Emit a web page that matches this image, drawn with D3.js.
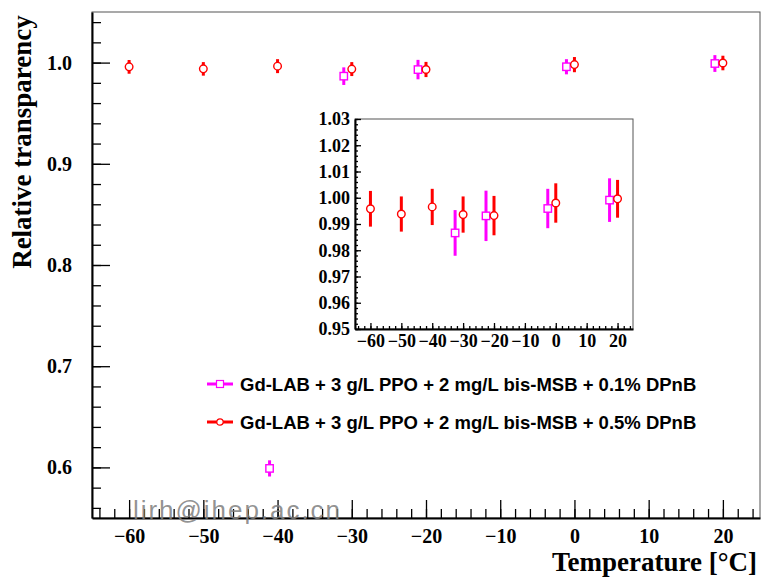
<!DOCTYPE html>
<html>
<head>
<meta charset="utf-8">
<script src="https://cdn.jsdelivr.net/npm/d3@7"></script>
<style>
	body { margin: 0; background: #fff; }
	svg text { font-family: "Liberation Serif", "Times New Roman", serif; font-weight: bold; }
</style>
</head>
<body>
<div id="viz"></div>
<script>
// 0.1% DPnB (magenta squares)
const tempsA = [-40, -30, -20, 0, 20];
const valuesA = [0.599, 0.9866, 0.9931, 0.9959, 0.9991];
const errorsA = [0.008, 0.0087, 0.0096, 0.0075, 0.0083];

// 0.5% DPnB (red circles)
const tempsB = [-60, -50, -40, -30, -20, 0, 20];
const valuesB = [0.9958, 0.9938, 0.9965, 0.9936, 0.9932, 0.9980, 0.9996];
const errorsB = [0.0068, 0.0067, 0.0069, 0.0069, 0.0075, 0.0075, 0.0072];

const legendLabels = [
	'Gd-LAB + 3 g/L PPO + 2 mg/L bis-MSB + 0.1% DPnB',
	'Gd-LAB + 3 g/L PPO + 2 mg/L bis-MSB + 0.5% DPnB'
];

const xTicks = [-60, -50, -40, -30, -20, -10, 0, 10, 20];
const mainYTicks = [0.6, 0.7, 0.8, 0.9, 1.0];
const insetYTicks = [0.95, 0.96, 0.97, 0.98, 0.99, 1.00, 1.01, 1.02, 1.03];

const seriesA = tempsA.map((t, i) => ({ t, v: valuesA[i], e: errorsA[i] }));
const seriesB = tempsB.map((t, i) => ({ t, v: valuesB[i], e: errorsB[i] }));

const width = 761, height = 580;
const svg = d3.select('#viz').append('svg')
	.attr('width', width)
	.attr('height', height);

const dodge = -8; // magenta points drawn a bit left of red ones

function minorRange(a, b, step) {
	let out = [];
	let n = Math.round((b - a) / step);
	for (let i = 0; i <= n; i++) out.push(+(a + i * step).toFixed(4));
	return out;
}

function drawPanel(g, x, y, opt) {
	let [x0, x1] = x.range();
	let [y0, y1] = y.range();

	// frame
	g.append('rect')
		.attr('x', x0).attr('y', y1)
		.attr('width', x1 - x0).attr('height', y0 - y1)
		.attr('fill', 'none')
		.attr('stroke', '#555')
		.attr('stroke-width', 1);

	// minor ticks
	g.append('g')
		.attr('transform', `translate(0,${y0})`)
		.call(d3.axisBottom(x).tickValues(minorRange(-64, 24, 2)).tickSize(-opt.minor).tickFormat(''))
		.call(s => s.select('.domain').remove());
	g.append('g')
		.attr('transform', `translate(${x0},0)`)
		.call(d3.axisLeft(y).tickValues(opt.yMinor).tickSize(-opt.minor).tickFormat(''))
		.call(s => s.select('.domain').remove());

	// major ticks + labels
	let xa = g.append('g')
		.attr('transform', `translate(0,${y0})`)
		.call(d3.axisBottom(x).tickValues(xTicks).tickSizeInner(-opt.major).tickSizeOuter(0)
			.tickFormat(d3.format('d')));
	xa.selectAll('text')
		.attr('dy', null)
		.attr('y', opt.xLabelY)
		.style('font-size', opt.font + 'px')
		.attr('fill', '#000');

	let ya = g.append('g')
		.attr('transform', `translate(${x0},0)`)
		.call(d3.axisLeft(y).tickValues(opt.yTicks).tickSizeInner(-opt.major).tickSizeOuter(0)
			.tickPadding(opt.yPad).tickFormat(d3.format(opt.yFmt)));
	ya.selectAll('text')
		.style('font-size', opt.font + 'px')
		.attr('fill', '#000');

	g.selectAll('.tick line').attr('stroke', '#000').attr('stroke-width', 1.3);
	g.selectAll('.domain').attr('stroke', '#000').attr('stroke-width', 2);

	let [lo, hi] = y.domain();

	function drawSeries(data, color, shape, off) {
		let pts = data.filter(d => d.v >= lo && d.v <= hi);
		g.append('g').selectAll('line')
			.data(pts)
			.join('line')
			.attr('x1', d => x(d.t) + off)
			.attr('x2', d => x(d.t) + off)
			.attr('y1', d => y(Math.max(d.v - d.e, lo)))
			.attr('y2', d => y(Math.min(d.v + d.e, hi)))
			.attr('stroke', color)
			.attr('stroke-width', 3);

		if (shape === 'square') {
			g.append('g').selectAll('rect')
				.data(pts)
				.join('rect')
				.attr('x', d => x(d.t) + off - 3.7)
				.attr('y', d => y(d.v) - 3.7)
				.attr('width', 7.4)
				.attr('height', 7.4)
				.attr('fill', '#fff')
				.attr('stroke', color)
				.attr('stroke-width', 1.4);
		} else {
			g.append('g').selectAll('circle')
				.data(pts)
				.join('circle')
				.attr('cx', d => x(d.t) + off)
				.attr('cy', d => y(d.v))
				.attr('r', 3.8)
				.attr('fill', '#fff')
				.attr('stroke', color)
				.attr('stroke-width', 1.4);
		}
	}

	drawSeries(seriesA, '#ff00ff', 'square', dodge);
	drawSeries(seriesB, '#ff0000', 'circle', 0);
}

// main plot
let x = d3.scaleLinear().domain([-65, 25]).range([92, 760]);
let y = d3.scaleLinear().domain([0.55, 1.05]).range([518, 12]);

let main = svg.append('g');
drawPanel(main, x, y, {
	major: 18, minor: 9, font: 20, xLabelY: 25, yPad: 20, yFmt: '.1f',
	yTicks: mainYTicks, yMinor: minorRange(0.56, 1.04, 0.02)
});

main.append('text')
	.attr('transform', 'translate(31,142) rotate(-90)')
	.attr('text-anchor', 'middle')
	.style('font-size', '27px')
	.text('Relative transparency');

main.append('text')
	.attr('x', 757)
	.attr('y', 571)
	.attr('text-anchor', 'end')
	.style('font-size', '27px')
	.text('Temperature [°C]');

// inset
let xi = d3.scaleLinear().domain([-65, 25]).range([355, 633]);
let yi = d3.scaleLinear().domain([0.95, 1.03]).range([329, 119]);

let inset = svg.append('g');
inset.append('rect')
	.attr('x', 355).attr('y', 119)
	.attr('width', 278).attr('height', 210)
	.attr('fill', '#fff');
drawPanel(inset, xi, yi, {
	major: 6, minor: 3, font: 18, xLabelY: 18, yPad: 5, yFmt: '.2f',
	yTicks: insetYTicks, yMinor: minorRange(0.95, 1.03, 0.002)
});

// legend
let legend = svg.append('g');
let legendColors = ['#ff00ff', '#ff0000'];
let legendY = [384, 422];
legendLabels.forEach((lab, i) => {
	let row = legend.append('g').attr('transform', `translate(0,${legendY[i]})`);
	row.append('line')
		.attr('x1', 207).attr('x2', 233)
		.attr('stroke', legendColors[i])
		.attr('stroke-width', 3);
	if (i === 0) {
		row.append('rect')
			.attr('x', 216.5).attr('y', -3.5).attr('width', 7).attr('height', 7)
			.attr('fill', '#fff').attr('stroke', legendColors[i]).attr('stroke-width', 1.2);
	} else {
		row.append('circle')
			.attr('cx', 220).attr('r', 3.2)
			.attr('fill', '#fff').attr('stroke', legendColors[i]).attr('stroke-width', 1.2);
	}
	row.append('text')
		.attr('x', 240)
		.attr('y', 6.5)
		.style('font-family', '"Liberation Sans", Arial, sans-serif')
		.style('font-size', '18.5px')
		.text(lab);
});

// watermark
svg.append('text')
	.attr('x', 133)
	.attr('y', 519)
	.attr('textLength', 207)
	.style('font-family', '"Liberation Sans", Arial, sans-serif')
	.style('font-weight', 'normal')
	.style('font-size', '26px')
	.attr('fill', '#808080')
	.attr('fill-opacity', 0.85)
	.text('lirh@ihep.ac.cn');
</script>
</body>
</html>
